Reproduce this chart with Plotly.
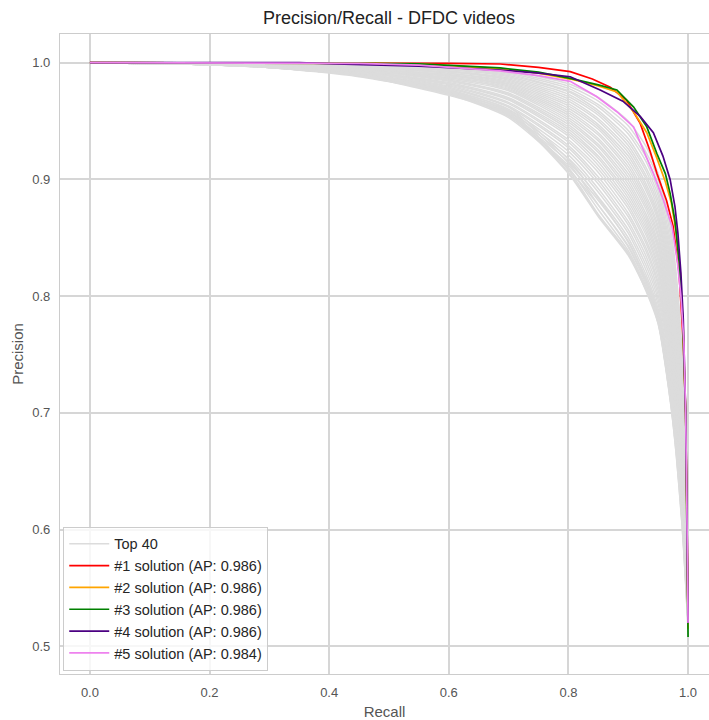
import plotly.graph_objects as go

# ---- Data ----
gray_recall = [0.0, 0.15, 0.3, 0.45, 0.6, 0.7, 0.8, 0.85, 0.9, 0.93, 0.95, 0.97, 0.98, 0.99, 0.995, 1.0]

gray_precision = [
    [1.0, 1.0, 1.0, 0.999, 0.997, 0.993, 0.982, 0.970, 0.950, 0.928, 0.905, 0.860, 0.820, 0.750, 0.670, 0.525],
    [1.0, 1.0, 0.999, 0.999, 0.996, 0.992, 0.980, 0.967, 0.946, 0.923, 0.900, 0.854, 0.815, 0.744, 0.665, 0.52],
    [1.0, 1.0, 1.0, 0.998, 0.996, 0.991, 0.978, 0.964, 0.942, 0.919, 0.895, 0.848, 0.809, 0.738, 0.661, 0.52],
    [1.0, 1.0, 0.999, 0.998, 0.995, 0.990, 0.976, 0.962, 0.939, 0.915, 0.890, 0.843, 0.804, 0.733, 0.657, 0.52],
    [1.0, 0.999, 0.999, 0.998, 0.995, 0.989, 0.975, 0.959, 0.935, 0.910, 0.886, 0.838, 0.799, 0.728, 0.653, 0.52],
    [1.0, 1.0, 0.999, 0.997, 0.994, 0.988, 0.973, 0.957, 0.932, 0.907, 0.882, 0.834, 0.795, 0.724, 0.650, 0.52],
    [1.0, 1.0, 0.999, 0.997, 0.993, 0.987, 0.971, 0.955, 0.929, 0.903, 0.878, 0.830, 0.790, 0.720, 0.647, 0.52],
    [1.0, 0.999, 0.998, 0.997, 0.993, 0.986, 0.969, 0.952, 0.926, 0.900, 0.874, 0.826, 0.786, 0.716, 0.644, 0.52],
    [1.0, 1.0, 0.999, 0.996, 0.992, 0.985, 0.967, 0.950, 0.923, 0.896, 0.870, 0.822, 0.782, 0.712, 0.641, 0.52],
    [1.0, 0.999, 0.998, 0.996, 0.991, 0.984, 0.965, 0.947, 0.920, 0.893, 0.867, 0.818, 0.778, 0.708, 0.638, 0.52],
    [1.0, 1.0, 0.998, 0.996, 0.991, 0.983, 0.963, 0.945, 0.917, 0.890, 0.864, 0.814, 0.774, 0.705, 0.636, 0.52],
    [1.0, 0.999, 0.999, 0.995, 0.990, 0.982, 0.961, 0.943, 0.914, 0.886, 0.860, 0.810, 0.770, 0.701, 0.633, 0.52],
    [1.0, 1.0, 0.998, 0.995, 0.989, 0.981, 0.959, 0.940, 0.911, 0.883, 0.857, 0.806, 0.766, 0.698, 0.631, 0.52],
    [1.0, 0.999, 0.998, 0.995, 0.989, 0.980, 0.957, 0.938, 0.908, 0.880, 0.853, 0.802, 0.762, 0.694, 0.628, 0.52],
    [1.0, 1.0, 0.998, 0.995, 0.988, 0.979, 0.955, 0.935, 0.905, 0.877, 0.850, 0.798, 0.758, 0.690, 0.626, 0.52],
    [1.0, 0.999, 0.998, 0.994, 0.987, 0.978, 0.953, 0.933, 0.902, 0.874, 0.846, 0.794, 0.754, 0.687, 0.623, 0.52],
    [1.0, 1.0, 0.998, 0.994, 0.987, 0.977, 0.951, 0.930, 0.899, 0.870, 0.843, 0.790, 0.750, 0.683, 0.621, 0.52],
    [1.0, 0.999, 0.998, 0.994, 0.986, 0.976, 0.949, 0.928, 0.896, 0.867, 0.840, 0.787, 0.747, 0.680, 0.618, 0.52],
    [1.0, 0.999, 0.998, 0.994, 0.985, 0.974, 0.947, 0.925, 0.893, 0.864, 0.836, 0.783, 0.743, 0.677, 0.616, 0.52],
    [1.0, 1.0, 0.998, 0.994, 0.985, 0.973, 0.945, 0.923, 0.890, 0.861, 0.833, 0.780, 0.740, 0.674, 0.614, 0.52],
    [1.0, 0.999, 0.998, 0.994, 0.984, 0.972, 0.943, 0.920, 0.887, 0.858, 0.830, 0.776, 0.736, 0.670, 0.611, 0.52],
    [1.0, 0.999, 0.998, 0.993, 0.983, 0.970, 0.941, 0.918, 0.884, 0.855, 0.826, 0.773, 0.733, 0.667, 0.609, 0.52],
    [1.0, 1.0, 0.997, 0.993, 0.982, 0.969, 0.939, 0.915, 0.881, 0.852, 0.823, 0.769, 0.729, 0.664, 0.607, 0.52],
    [1.0, 0.999, 0.997, 0.993, 0.982, 0.968, 0.937, 0.912, 0.878, 0.848, 0.820, 0.765, 0.726, 0.661, 0.604, 0.52],
    [1.0, 0.999, 0.997, 0.992, 0.981, 0.966, 0.934, 0.909, 0.875, 0.845, 0.816, 0.762, 0.722, 0.657, 0.602, 0.52],
    [1.0, 0.999, 0.997, 0.992, 0.980, 0.965, 0.932, 0.906, 0.871, 0.841, 0.812, 0.758, 0.718, 0.654, 0.599, 0.52],
    [1.0, 1.0, 0.997, 0.991, 0.979, 0.963, 0.929, 0.902, 0.868, 0.838, 0.809, 0.754, 0.714, 0.650, 0.597, 0.52],
    [1.0, 0.999, 0.997, 0.991, 0.978, 0.962, 0.927, 0.899, 0.864, 0.834, 0.805, 0.750, 0.711, 0.647, 0.594, 0.52],
    [1.0, 0.999, 0.997, 0.991, 0.977, 0.960, 0.924, 0.896, 0.861, 0.830, 0.801, 0.746, 0.707, 0.643, 0.591, 0.52],
    [1.0, 0.999, 0.996, 0.990, 0.976, 0.958, 0.921, 0.892, 0.857, 0.826, 0.797, 0.742, 0.703, 0.639, 0.588, 0.52],
    [1.0, 0.999, 0.997, 0.990, 0.975, 0.956, 0.918, 0.889, 0.854, 0.822, 0.793, 0.738, 0.698, 0.635, 0.585, 0.52],
    [1.0, 0.999, 0.996, 0.990, 0.974, 0.955, 0.915, 0.885, 0.850, 0.818, 0.789, 0.733, 0.694, 0.631, 0.582, 0.52],
    [1.0, 0.999, 0.996, 0.989, 0.974, 0.954, 0.912, 0.882, 0.847, 0.815, 0.786, 0.729, 0.690, 0.627, 0.579, 0.52],
    [1.0, 0.999, 0.996, 0.989, 0.973, 0.953, 0.909, 0.878, 0.843, 0.812, 0.783, 0.725, 0.686, 0.623, 0.576, 0.52],
    [1.0, 0.999, 0.996, 0.990, 0.978, 0.962, 0.917, 0.884, 0.846, 0.813, 0.784, 0.724, 0.684, 0.621, 0.574, 0.52],
    [1.0, 0.999, 0.996, 0.989, 0.976, 0.960, 0.914, 0.878, 0.842, 0.810, 0.780, 0.719, 0.678, 0.616, 0.570, 0.52],
    [1.0, 0.999, 0.997, 0.990, 0.975, 0.958, 0.910, 0.874, 0.839, 0.808, 0.779, 0.715, 0.672, 0.611, 0.567, 0.52],
    [1.0, 0.999, 0.996, 0.988, 0.974, 0.959, 0.908, 0.870, 0.837, 0.806, 0.777, 0.713, 0.668, 0.607, 0.565, 0.52],
    [1.0, 0.999, 0.996, 0.989, 0.973, 0.957, 0.906, 0.869, 0.836, 0.804, 0.776, 0.711, 0.666, 0.604, 0.563, 0.515],
    [1.0, 0.999, 0.997, 0.989, 0.972, 0.956, 0.905, 0.868, 0.835, 0.805, 0.778, 0.712, 0.665, 0.603, 0.562, 0.515],
]

sol1_recall = [0.0, 0.3, 0.5, 0.6, 0.686, 0.75, 0.803, 0.84, 0.87, 0.897, 0.92, 0.936, 0.948, 0.964, 0.975, 0.985, 0.992, 0.996, 0.998, 1.0, 1.0]
sol1_precision = [1.0, 1.0, 1.0, 0.9995, 0.9989, 0.996, 0.9923, 0.986, 0.979, 0.968, 0.948, 0.925, 0.905, 0.882, 0.860, 0.82, 0.76, 0.70, 0.62, 0.55, 0.52]

sol2_recall = [0.0, 0.3, 0.45, 0.55, 0.686, 0.75, 0.803, 0.85, 0.881, 0.909, 0.931, 0.948, 0.962, 0.972, 0.98, 0.987, 0.992, 0.996, 0.998, 1.0, 1.0]
sol2_precision = [1.0, 1.0, 0.9995, 0.999, 0.995, 0.991, 0.986, 0.98, 0.975, 0.958, 0.94, 0.918, 0.898, 0.88, 0.855, 0.82, 0.77, 0.70, 0.62, 0.55, 0.515]

sol3_recall = [0.0, 0.3, 0.45, 0.55, 0.686, 0.75, 0.803, 0.85, 0.881, 0.909, 0.931, 0.948, 0.962, 0.970, 0.978, 0.985, 0.991, 0.996, 0.998, 1.0, 1.0]
sol3_precision = [1.0, 1.0, 0.9995, 0.999, 0.9955, 0.992, 0.9866, 0.981, 0.9766, 0.962, 0.945, 0.922, 0.905, 0.888, 0.865, 0.83, 0.78, 0.70, 0.62, 0.55, 0.508]

sol4_recall = [0.0, 0.35, 0.41, 0.55, 0.686, 0.75, 0.803, 0.853, 0.891, 0.92, 0.942, 0.958, 0.970, 0.978, 0.983, 0.988, 0.992, 0.996, 0.998, 1.0, 1.0]
sol4_precision = [1.0, 1.0, 0.999, 0.997, 0.9937, 0.991, 0.988, 0.9766, 0.967, 0.954, 0.940, 0.920, 0.900, 0.877, 0.854, 0.82, 0.78, 0.70, 0.62, 0.55, 0.52]

sol5_recall = [0.0, 0.35, 0.45, 0.55, 0.686, 0.75, 0.803, 0.847, 0.881, 0.909, 0.925, 0.942, 0.959, 0.973, 0.982, 0.988, 0.993, 0.996, 0.998, 1.0, 1.0]
sol5_precision = [1.0, 1.0, 0.9995, 0.998, 0.993, 0.989, 0.984, 0.971, 0.958, 0.945, 0.925, 0.905, 0.882, 0.860, 0.83, 0.80, 0.76, 0.70, 0.62, 0.55, 0.52]

solution_names = [
    "#1 solution (AP: 0.986)",
    "#2 solution (AP: 0.986)",
    "#3 solution (AP: 0.986)",
    "#4 solution (AP: 0.986)",
    "#5 solution (AP: 0.984)",
]
solution_colors = ["#FF0000", "#FFA500", "#008000", "#4B0082", "#EE82EE"]

x_ticks = [0.0, 0.2, 0.4, 0.6, 0.8, 1.0]
y_ticks = [0.5, 0.6, 0.7, 0.8, 0.9, 1.0]

# ---- Figure ----
fig = go.Figure()

for i, prec in enumerate(gray_precision):
    fig.add_trace(go.Scatter(
        x=gray_recall, y=prec, mode="lines",
        line=dict(color="#dcdcdc", width=1.5, shape="spline", smoothing=0.6),
        name="Top 40", legendgroup="top40", showlegend=(i == 0),
        hoverinfo="skip",
    ))

sol_recalls = [sol1_recall, sol2_recall, sol3_recall, sol4_recall, sol5_recall]
sol_precisions = [sol1_precision, sol2_precision, sol3_precision, sol4_precision, sol5_precision]
for r, p, name, col in zip(sol_recalls, sol_precisions, solution_names, solution_colors):
    fig.add_trace(go.Scatter(
        x=r, y=p, mode="lines", name=name,
        line=dict(color=col, width=1.7),
    ))

font_family = "Liberation Sans, Arial, sans-serif"

fig.update_layout(
    width=709, height=720,
    margin=dict(l=60, r=0, t=34, b=46, autoexpand=False),
    paper_bgcolor="white", plot_bgcolor="white",
    font=dict(family=font_family, color="#555555", size=13),
    title=dict(
        text="Precision/Recall - DFDC videos",
        x=0.507, xref="paper", xanchor="center",
        y=1 - 18 / 720, yref="container", yanchor="middle",
        font=dict(size=18, color="#222222", family=font_family),
    ),
    showlegend=True,
    legend=dict(
        x=0.005, y=0.005, xanchor="left", yanchor="bottom",
        bgcolor="rgba(255,255,255,0.8)", bordercolor="#cccccc", borderwidth=1,
        font=dict(size=14.5, color="#262626", family=font_family),
        traceorder="normal", itemwidth=40,
    ),
)

fig.update_xaxes(
    range=[-0.05, 1.035], tickvals=x_ticks, tickformat=".1f",
    showgrid=True, gridcolor="#d6d6d6", gridwidth=1.5, automargin=False,
    zeroline=False, showline=True, linecolor="#cccccc", linewidth=1.25, mirror=True,
    ticks="", ticklabelstandoff=6,
    tickfont=dict(size=13, color="#555555"),
    title=dict(text="Recall", font=dict(size=15, color="#555555"), standoff=7),
)
fig.update_yaxes(
    range=[0.4762, 1.0246], tickvals=y_ticks, tickformat=".1f",
    showgrid=True, gridcolor="#d6d6d6", gridwidth=1.5, automargin=False,
    zeroline=False, showline=True, linecolor="#cccccc", linewidth=1.25, mirror=False,
    ticks="", ticklabelstandoff=6,
    tickfont=dict(size=13, color="#555555"),
    title=dict(text="Precision", font=dict(size=15, color="#555555"), standoff=4),
)

fig.write_html(
    "out.html",
    config={"displayModeBar": False},
    post_script="document.body.style.margin='0';document.body.style.overflow='hidden';",
)
